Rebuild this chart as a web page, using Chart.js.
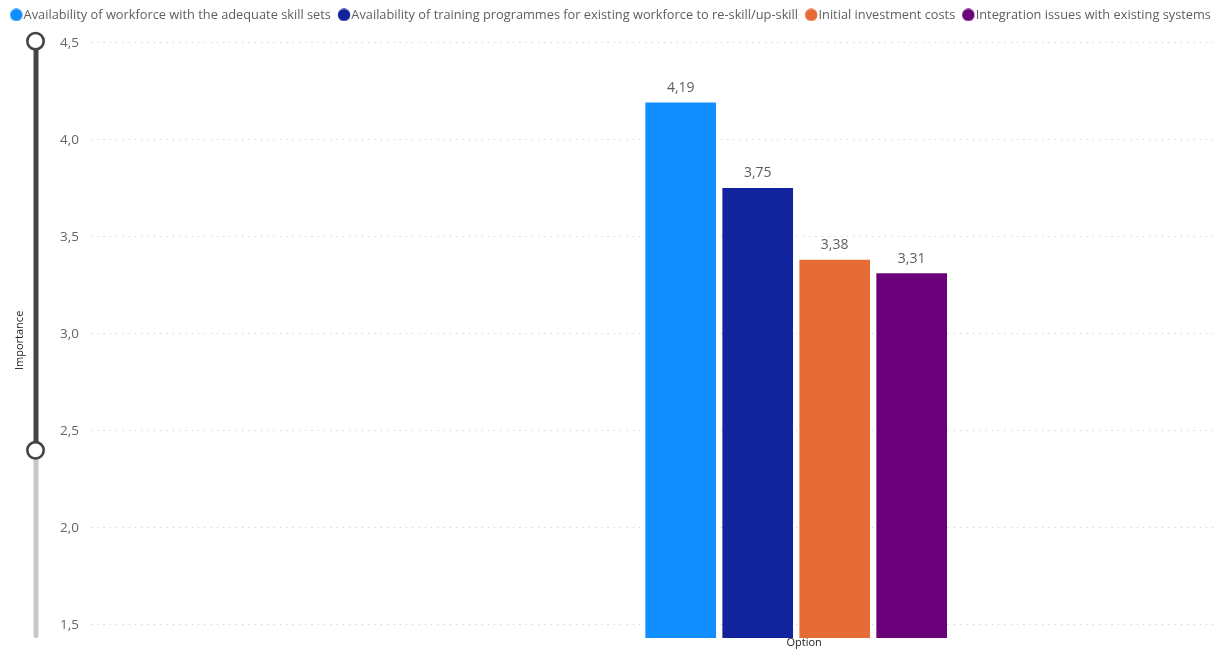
<!DOCTYPE html>
<html>
<head>
<meta charset="utf-8">
<script src="https://cdn.jsdelivr.net/npm/chart.js@4.4.1/dist/chart.umd.min.js"></script>
<style>
  html, body { margin: 0; padding: 0; background: #fff; }
  #wrap { width: 1224px; height: 651px; }
</style>
</head>
<body>
<div id="wrap"><canvas id="importanceChart"></canvas></div>
<script>
const optionNames = [
  "Availability of workforce with the adequate skill sets",
  "Availability of training programmes for existing workforce to re-skill/up-skill",
  "Initial investment costs",
  "Integration issues with existing systems",
];
const importance = [4.19, 3.75, 3.38, 3.31];
const colors = ["#118DFF", "#12239E", "#E66C37", "#6B007B"];
const yTicks = [1.5, 2.0, 2.5, 3.0, 3.5, 4.0, 4.5];
const zoomRange = [2.4, 4.5];

const FONT = "'Open Sans', 'Noto Sans', sans-serif";
const comma = (v, d) => v.toFixed(d).replace(".", ",");

// round legend markers; the dot sits right of the image centre so the label text hugs it
function dot(color) {
  const c = document.createElement("canvas");
  c.width = 20;
  c.height = 13;
  const g = c.getContext("2d");
  g.fillStyle = color;
  g.beginPath();
  g.arc(13.1, 6.5, 6.2, 0, Math.PI * 2);
  g.fill();
  return c;
}
const dots = colors.map(dot);

const overlay = {
  id: "overlay",
  afterInit(chart) {
    // leave room between the legend and the plot
    const legend = chart.legend;
    const fit = legend.fit;
    legend.fit = function () {
      fit.call(this);
      this.height += 11.4;
    };
  },
  afterDatasetsDraw(chart) {
    const { ctx, chartArea } = chart;
    const metas = chart.data.datasets.map((ds, i) => chart.getDatasetMeta(i).data[0]);

    ctx.save();
    ctx.font = "14px " + FONT;
    ctx.fillStyle = "#605E5C";
    ctx.textAlign = "center";
    ctx.textBaseline = "alphabetic";
    metas.forEach((bar, i) => {
      ctx.fillText(comma(importance[i], 2), bar.x, bar.y - 11);
    });

    // x axis title under the bar group
    const mid = (metas[0].x + metas[metas.length - 1].x) / 2 + 8;
    ctx.font = "11px " + FONT;
    ctx.fillStyle = "#252423";
    ctx.textBaseline = "middle";
    ctx.fillText("Option", mid, chartArea.bottom + 4.5);
    ctx.restore();
  },
  afterDraw(chart) {
    // zoom slider along the value axis
    const { ctx, chartArea, scales: { y } } = chart;
    const sx = 36;
    const hi = y.getPixelForValue(zoomRange[1]) - 1.5;
    const lo = y.getPixelForValue(zoomRange[0]);
    ctx.save();
    ctx.lineCap = "round";
    ctx.lineWidth = 5;
    ctx.strokeStyle = "#C8C8C8";
    ctx.beginPath();
    ctx.moveTo(sx, lo);
    ctx.lineTo(sx, chartArea.bottom - 2.5);
    ctx.stroke();
    ctx.strokeStyle = "#444444";
    ctx.beginPath();
    ctx.moveTo(sx, hi);
    ctx.lineTo(sx, lo);
    ctx.stroke();
    [hi, lo].forEach((py) => {
      ctx.beginPath();
      ctx.arc(sx - 0.5, py, 8.2, 0, Math.PI * 2);
      ctx.fillStyle = "#FFFFFF";
      ctx.fill();
      ctx.lineWidth = 2.6;
      ctx.strokeStyle = "#444444";
      ctx.stroke();
    });
    ctx.restore();
  },
};

const ctx = document.getElementById("importanceChart").getContext("2d");
const importanceChart = new Chart(ctx, {
  type: "bar",
  data: {
    datasets: optionNames.map((label, i) => ({
      label: label,
      data: [{ x: i, y: importance[i] }],
      backgroundColor: colors[i],
      borderWidth: 0,
      grouped: false,
      barThickness: 70,
    })),
  },
  options: {
    responsive: true,
    maintainAspectRatio: false,
    animation: false,
    layout: { padding: { left: 3.2, right: 0, top: 2.5, bottom: 13 } },
    scales: {
      x: {
        type: "linear",
        display: false,
        offset: false,
        min: -7.66,
        max: 6.94,
      },
      y: {
        min: 1.433,
        max: 4.5,
        afterBuildTicks: (axis) => {
          axis.ticks = yTicks.map((v) => ({ value: v }));
        },
        afterFit: (axis) => {
          axis.width = 87.8;
          axis.paddingTop = 0;
          axis.paddingBottom = 0;
        },
        ticks: {
          padding: 12,
          color: "#666666",
          font: { family: FONT, size: 13.5 },
          callback: (v) => comma(v, 1),
        },
        grid: {
          color: "#C8C6C4",
          lineWidth: 1,
          drawTicks: false,
        },
        border: { display: false, dash: [1, 5.3] },
        title: {
          display: true,
          text: "Importance",
          color: "#252423",
          font: { family: FONT, size: 11 },
          padding: { top: 9.7, bottom: 0 },
        },
      },
      // empty strip on the right so the legend can run past the plot edge
      edge: {
        position: "right",
        ticks: { display: false },
        grid: { display: false },
        border: { display: false },
        afterFit: (axis) => {
          axis.width = 9;
          axis.paddingTop = 0;
          axis.paddingBottom = 0;
        },
      },
    },
    plugins: {
      legend: {
        position: "top",
        align: "start",
        labels: {
          usePointStyle: true,
          boxWidth: 8,
          padding: 6,
          color: "#605E5C",
          font: { family: FONT, size: 12.8 },
          generateLabels: (chart) =>
            Chart.defaults.plugins.legend.labels
              .generateLabels(chart)
              .map((item, i) => ({ ...item, pointStyle: dots[i] })),
        },
      },
      tooltip: { enabled: false },
    },
  },
  plugins: [overlay],
});
</script>
</body>
</html>
